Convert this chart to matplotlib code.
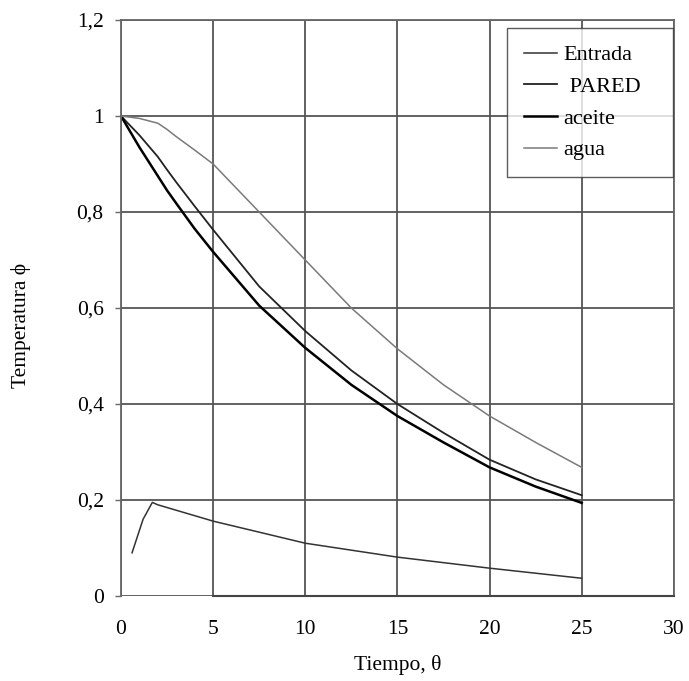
import matplotlib
matplotlib.use("Agg")
import matplotlib.pyplot as plt

# Data
x_main = [0, 1, 2, 2.5, 3, 4, 5, 7.5, 10, 12.5, 15, 17.5, 20, 22.5, 25]
aceite = [1.0, 0.935, 0.875, 0.845, 0.818, 0.765, 0.717, 0.605, 0.517, 0.44, 0.375, 0.32, 0.268, 0.228, 0.194]
pared = [1.0, 0.96, 0.915, 0.888, 0.862, 0.812, 0.763, 0.645, 0.552, 0.47, 0.40, 0.34, 0.284, 0.243, 0.21]
agua = [1.0, 0.995, 0.985, 0.972, 0.957, 0.929, 0.90, 0.80, 0.70, 0.60, 0.515, 0.44, 0.375, 0.32, 0.268]

x_entrada = [0.6, 1.2, 1.7, 2.0, 5, 10, 15, 20, 25]
entrada = [0.09, 0.16, 0.195, 0.19, 0.156, 0.11, 0.081, 0.058, 0.037]

xticks = [0, 5, 10, 15, 20, 25, 30]
yticks = [0, 0.2, 0.4, 0.6, 0.8, 1.0, 1.2]
ytick_labels = ["0", "0,2", "0,4", "0,6", "0,8", "1", "1,2"]

plt.rcParams['font.family'] = ['Liberation Serif', 'DejaVu Serif']

fig = plt.figure(figsize=(6.89, 6.81), dpi=100)
ax = fig.add_axes([0.1756, 0.1248, 0.8024, 0.8458])

ax.plot(x_entrada, entrada, color='#333333', lw=1.1, label='Entrada')
ax.plot(x_main, pared, color='#222222', lw=1.3, label=' PARED')
ax.plot(x_main, aceite, color='#000000', lw=1.8, label='aceite')
ax.plot(x_main, agua, color='#7a7a7a', lw=1.1, label='agua')

ax.set_xlim(0, 30)
ax.set_ylim(0, 1.2)
ax.set_xticks(xticks)
ax.set_yticks(yticks)
ax.set_yticklabels(ytick_labels)
ax.grid(True, color='#555555', lw=1.3)
ax.tick_params(axis='x', labelsize=15.5, length=0, pad=17)
ax.tick_params(axis='y', labelsize=15.5, length=4.5, width=1, color='#666666', pad=8)
for s in ['left', 'top', 'right']:
    ax.spines[s].set_color('#666666')
    ax.spines[s].set_linewidth(1.3)
ax.spines['bottom'].set_color('#444444')
ax.spines['bottom'].set_linewidth(1.5)
ax.spines['bottom'].set_bounds(5, 30)

ax.set_xlabel('Tiempo, θ', fontsize=15.5, labelpad=12)
ax.set_ylabel('Temperatura ϕ', fontsize=15.5)
ax.yaxis.set_label_coords(-0.163, 0.469)

leg = ax.legend(loc='upper left', fontsize=16, frameon=True, fancybox=False,
                edgecolor='#333333', handlelength=1.5, handletextpad=0.3,
                borderpad=0.75, labelspacing=0.5, mode='expand', borderaxespad=0,
                bbox_to_anchor=(0.698, 0.731, 0.300, 0.255))
leg.get_frame().set_linewidth(1.0)

fig.savefig('out.png', dpi=100, facecolor='white')
